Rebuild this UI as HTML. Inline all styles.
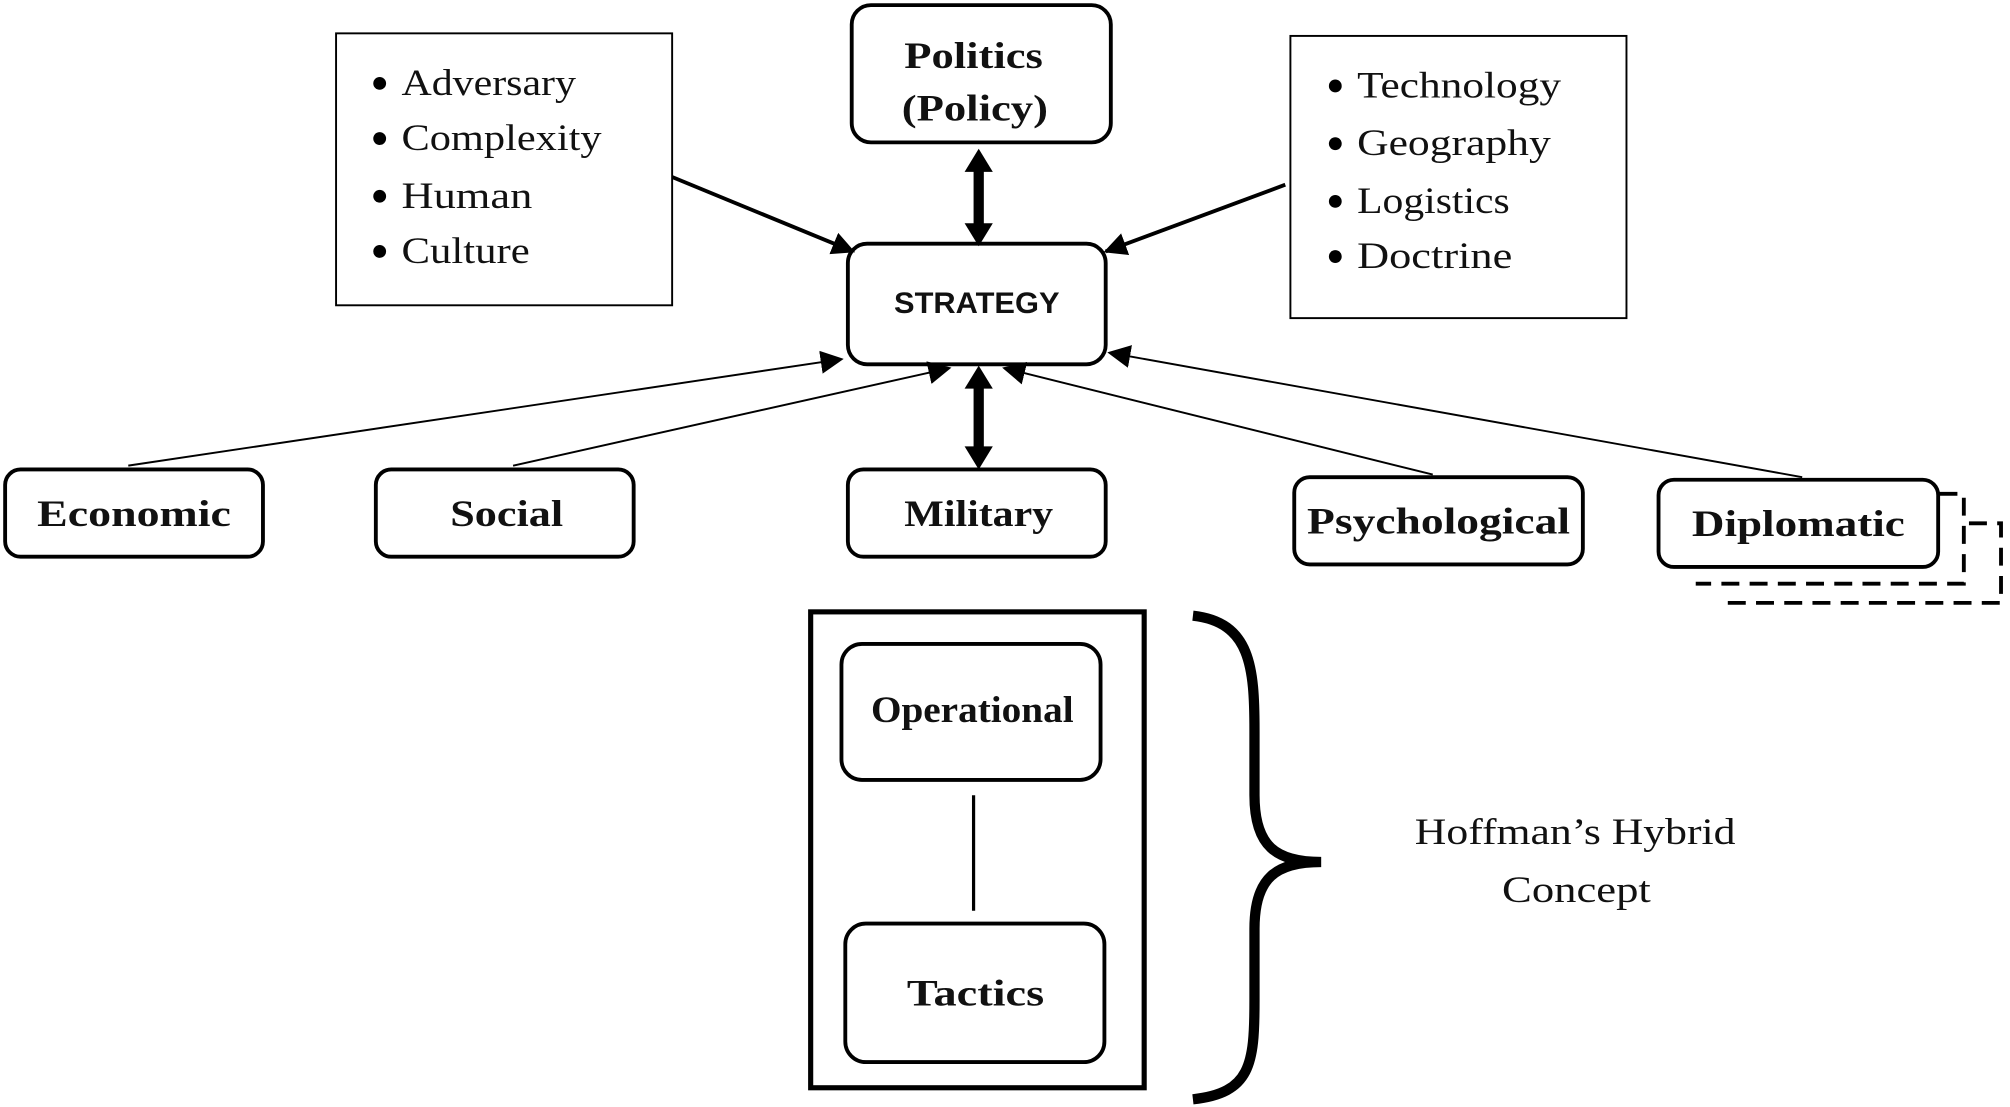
<!DOCTYPE html>
<html><head><meta charset="utf-8"><style>
html,body{margin:0;padding:0;background:#fff;}
svg{display:block;}
text{font-family:"Liberation Serif",serif;fill:#111;}
</style></head><body>
<svg width="2010" height="1107" viewBox="0 0 1567 863" preserveAspectRatio="none" xmlns="http://www.w3.org/2000/svg">
<defs>
<marker id="ahs" viewBox="0 0 10 10" refX="9" refY="5" markerWidth="18" markerHeight="18" orient="auto-start-reverse" markerUnits="userSpaceOnUse"><path d="M0,0 L10,5 L0,10 z" fill="#000"/></marker>
</defs>
<g fill="#fff" stroke="#000">
<rect x="262" y="26" width="262" height="212" stroke-width="1.5"/>
<rect x="1006" y="28" width="262" height="220" stroke-width="1.5"/>
<rect x="664" y="4" width="202" height="107" rx="15" stroke-width="3"/>
<rect x="661" y="190" width="201" height="94" rx="15" stroke-width="3"/>
<rect x="4" y="366" width="201" height="68" rx="12" stroke-width="3"/>
<rect x="293" y="366" width="201" height="68" rx="12" stroke-width="3"/>
<rect x="661" y="366" width="201" height="68" rx="12" stroke-width="3"/>
<rect x="1009" y="372" width="225" height="68" rx="12" stroke-width="3"/>
<rect x="1293" y="374" width="218" height="68" rx="12" stroke-width="3"/>
<rect x="632" y="477" width="260" height="371" stroke-width="4"/>
<rect x="656" y="502" width="202" height="106" rx="16" stroke-width="3"/>
<rect x="659" y="720" width="202" height="108" rx="16" stroke-width="3"/>
</g>
<g fill="none" stroke="#000">
<path d="M1512,385 L1531,385 L1531,455 L1322,455" stroke-width="3" stroke-dasharray="14,8"/>
<path d="M1535,408 L1560,408 L1560,470 L1345,470" stroke-width="3" stroke-dasharray="14,8"/>
<line x1="524" y1="138" x2="665" y2="196" stroke-width="3" marker-end="url(#ahs)"/>
<line x1="1002" y1="144" x2="862" y2="196" stroke-width="3" marker-end="url(#ahs)"/>
<line x1="763" y1="130" x2="763" y2="178" stroke-width="8"/>
<line x1="763" y1="298" x2="763" y2="353" stroke-width="8"/>
<line x1="100" y1="363" x2="656" y2="280" stroke-width="1.5" marker-end="url(#ahs)"/>
<line x1="400" y1="363" x2="740" y2="287" stroke-width="1.5" marker-end="url(#ahs)"/>
<line x1="1117" y1="370" x2="783" y2="287" stroke-width="1.5" marker-end="url(#ahs)"/>
<line x1="1405" y1="372" x2="865" y2="275" stroke-width="1.5" marker-end="url(#ahs)"/>
<line x1="759" y1="620" x2="759" y2="710" stroke-width="2.5"/>
<path d="M930,480 C975,485 978,520 978,570 L978,620 C978,660 995,672 1030,672 C995,672 978,684 978,724 L978,780 C978,830 975,852 930,857" stroke-width="8"/>
</g>
<g fill="#000">
<polygon points="763,116 752,134 774,134"/>
<polygon points="763,192 752,174 774,174"/>
<polygon points="763,285 752,303 774,303"/>
<polygon points="763,366 752,348 774,348"/>
<circle cx="296" cy="65" r="5"/><circle cx="296" cy="108" r="5"/><circle cx="296" cy="153" r="5"/><circle cx="296" cy="196" r="5"/>
<circle cx="1041" cy="67" r="5"/><circle cx="1041" cy="112" r="5"/><circle cx="1041" cy="157" r="5"/><circle cx="1041" cy="200" r="5"/>
</g>
<g font-size="29" lengthAdjust="spacingAndGlyphs">
<text x="313" y="74" textLength="136" lengthAdjust="spacingAndGlyphs">Adversary</text>
<text x="313" y="117" textLength="156" lengthAdjust="spacingAndGlyphs">Complexity</text>
<text x="313" y="162" textLength="102" lengthAdjust="spacingAndGlyphs">Human</text>
<text x="313" y="205" textLength="100" lengthAdjust="spacingAndGlyphs">Culture</text>
<text x="1058" y="76" textLength="159" lengthAdjust="spacingAndGlyphs">Technology</text>
<text x="1058" y="121" textLength="151" lengthAdjust="spacingAndGlyphs">Geography</text>
<text x="1058" y="166" textLength="119" lengthAdjust="spacingAndGlyphs">Logistics</text>
<text x="1058" y="209" textLength="121" lengthAdjust="spacingAndGlyphs">Doctrine</text>
</g>
<g font-size="29" font-weight="bold">
<text x="705" y="53" textLength="108" lengthAdjust="spacingAndGlyphs">Politics</text>
<text x="703" y="94" textLength="114" lengthAdjust="spacingAndGlyphs">(Policy)</text>
<text x="29" y="410" textLength="151" lengthAdjust="spacingAndGlyphs">Economic</text>
<text x="351" y="410" textLength="88" lengthAdjust="spacingAndGlyphs">Social</text>
<text x="705" y="410" textLength="116" lengthAdjust="spacingAndGlyphs">Military</text>
<text x="1019" y="416" textLength="205" lengthAdjust="spacingAndGlyphs">Psychological</text>
<text x="1319" y="418" textLength="166" lengthAdjust="spacingAndGlyphs">Diplomatic</text>
<text x="679" y="563" textLength="158" lengthAdjust="spacingAndGlyphs">Operational</text>
<text x="707" y="784" textLength="107" lengthAdjust="spacingAndGlyphs">Tactics</text>
</g>
<text x="697" y="244" font-size="23" font-weight="bold" textLength="129" lengthAdjust="spacingAndGlyphs" style="font-family:'Liberation Sans',sans-serif">STRATEGY</text>
<g font-size="29">
<text x="1103" y="658" textLength="250" lengthAdjust="spacingAndGlyphs">Hoffman’s Hybrid</text>
<text x="1171" y="703" textLength="116" lengthAdjust="spacingAndGlyphs">Concept</text>
</g>
</svg>
</body></html>
